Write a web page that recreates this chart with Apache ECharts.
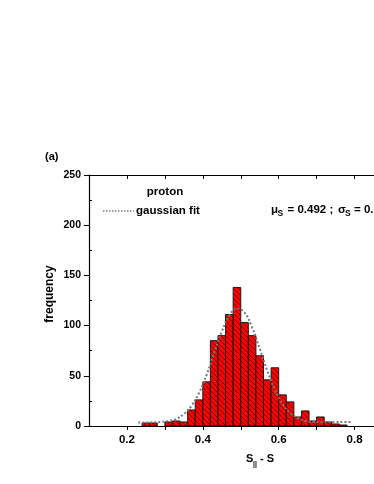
<!DOCTYPE html>
<html>
<head>
<meta charset="utf-8">
<script src="https://cdn.jsdelivr.net/npm/echarts@6/dist/echarts.min.js"></script>
<style>
html, body { margin: 0; padding: 0; background: #fff; }
#ecHist { width: 374px; height: 484px; }
</style>
</head>
<body>
<div id="ecHist"></div>
<script>
// histogram bins (left edge, width 0.02)
var binStart = [0.24, 0.26, 0.28, 0.30, 0.32, 0.34, 0.36, 0.38, 0.40, 0.42, 0.44, 0.46, 0.48, 0.50,
                0.52, 0.54, 0.56, 0.58, 0.60, 0.62, 0.64, 0.66, 0.68, 0.70, 0.72, 0.74, 0.76];
var binCount = [3, 3, 0, 4, 5, 4, 16, 26, 44, 85, 90, 111, 138, 103,
                90, 70, 46, 58, 31, 24, 9, 15, 5, 9, 4, 2, 1];
var binWidth = 0.02;

// gaussian fit
var fitX = [0.23, 0.25, 0.27, 0.29, 0.31, 0.33, 0.35, 0.37, 0.39, 0.41, 0.43, 0.45, 0.47, 0.49, 0.51,
            0.53, 0.55, 0.57, 0.59, 0.61, 0.63, 0.65, 0.67, 0.69, 0.71, 0.73, 0.75, 0.77, 0.79];
var fitY = [3.5, 3.5, 3.7, 4, 5, 7, 12, 20, 33, 51, 73, 94, 110, 117, 113,
            98, 77, 55, 36, 22, 13, 8, 5, 4, 4, 4, 4, 4, 4];

var xLabels = [0.2, 0.4, 0.6, 0.8];
var xTicks = [0.2, 0.3, 0.4, 0.5, 0.6, 0.7, 0.8];
var yMinor = [25, 75, 125, 175, 225];

var FONT = '"Liberation Sans", Arial, sans-serif';

// red fill with thin dark "\" hatching
var hatch = document.createElement('canvas');
hatch.width = 5;
hatch.height = 5;
var hc = hatch.getContext('2d');
hc.fillStyle = '#ff0000';
hc.fillRect(0, 0, 5, 5);
hc.strokeStyle = '#500000';
hc.lineWidth = 0.7;
hc.beginPath();
hc.moveTo(-1, -1);
hc.lineTo(6, 6);
hc.stroke();

var bars = [];
for (var i = 0; i < binStart.length; i++) {
    if (binCount[i] > 0) {
        bars.push([binStart[i], binStart[i] + binWidth, binCount[i]]);
    }
}
var fit = fitX.map(function (x, i) { return [x, fitY[i]]; });

function txt(x, y, text, size, align) {
    return {
        type: 'text', x: x, y: y, z: 10,
        style: {
            text: text, fill: '#000',
            font: 'bold ' + size + 'px ' + FONT,
            align: align || 'left', verticalAlign: 'middle'
        }
    };
}

getechart("ecHist", {
    animation: false,
    backgroundColor: '#fff',
    grid: {
        left: 89, top: 175, width: 303.5, height: 251,
        outerBoundsMode: 'none',
        containLabel: false
    },
    xAxis: [
        {
            type: 'value', min: 0.1, max: 0.9, position: 'bottom',
            axisLine: { show: true, lineStyle: { color: '#000', width: 1.2 } },
            axisTick: { show: true, customValues: xTicks, length: 4, lineStyle: { color: '#000' } },
            axisLabel: {
                customValues: xLabels, color: '#000', fontSize: 11.5, fontWeight: 'bold',
                fontFamily: FONT, margin: 8,
                formatter: function (v) { return v.toFixed(1); }
            },
            splitLine: { show: false }
        },
        {
            type: 'value', min: 0.1, max: 0.9, position: 'top',
            axisLine: { show: true, onZero: false, lineStyle: { color: '#000', width: 1.2 } },
            axisTick: { show: true, inside: true, customValues: xTicks, length: 4, lineStyle: { color: '#000' } },
            axisLabel: { show: false },
            splitLine: { show: false }
        }
    ],
    yAxis: [
        {
            type: 'value', min: 0, max: 250, interval: 50, position: 'left',
            axisLine: { show: true, lineStyle: { color: '#000', width: 1.2 } },
            axisTick: { show: true, length: 5, lineStyle: { color: '#000' } },
            axisLabel: { color: '#000', fontSize: 10.5, fontWeight: 'bold', fontFamily: FONT, margin: 8 },
            splitLine: { show: false }
        },
        {
            type: 'value', min: 0, max: 250, position: 'left',
            axisLine: { show: false },
            axisTick: { show: true, inside: true, customValues: yMinor, length: 3, lineStyle: { color: '#000' } },
            axisLabel: { show: false },
            splitLine: { show: false }
        }
    ],
    series: [
        {
            name: 'proton',
            type: 'custom',
            xAxisIndex: 0,
            yAxisIndex: 0,
            data: bars,
            encode: { x: [0, 1], y: 2 },
            renderItem: function (params, api) {
                var p0 = api.coord([api.value(0), api.value(2)]);
                var p1 = api.coord([api.value(1), 0]);
                return {
                    type: 'rect',
                    shape: { x: p0[0], y: p0[1], width: p1[0] - p0[0], height: p1[1] - p0[1] },
                    style: { fill: { image: hatch, repeat: 'repeat' }, stroke: '#1a1a1a', lineWidth: 1 }
                };
            }
        },
        {
            name: 'gaussian fit',
            type: 'line',
            xAxisIndex: 0,
            yAxisIndex: 0,
            data: fit,
            smooth: 0.4,
            showSymbol: false,
            z: 5,
            lineStyle: { color: '#7a7a7a', width: 2, type: [2, 2] }
        }
    ],
    graphic: [
        txt(45, 157, '(a)', 11),
        {
            type: 'text', x: 50, y: 294, rotation: Math.PI / 2, z: 10,
            style: { text: 'frequency', fill: '#000', font: 'bold 12px ' + FONT, align: 'center', verticalAlign: 'middle' }
        },
        txt(165, 192, 'proton', 11.5, 'center'),
        {
            type: 'line', z: 10,
            shape: { x1: 103, y1: 211, x2: 134, y2: 211 },
            style: { stroke: '#7a7a7a', lineWidth: 1.5, lineDash: [1.5, 1.5] }
        },
        txt(136, 211, 'gaussian fit', 11.5),
        txt(271, 210, 'μ', 11.5),
        txt(277.5, 214, 'S', 8.5),
        txt(287.5, 210, '= 0.492 ;', 11.5),
        txt(338, 210, 'σ', 11.5),
        txt(345, 214, 'S', 8.5),
        txt(354, 210, '= 0.', 11.5),
        txt(246, 459, 'S', 11),
        txt(253, 464, '||', 7),
        txt(257, 459, ' - S', 11)
    ]
});

function getechart(idName, idOption) {
    var chart = echarts.init(document.getElementById(idName), null, { renderer: 'canvas' });
    chart.setOption(idOption);
    window.addEventListener('resize', function () {
        chart.resize();
    });
}
</script>
</body>
</html>
